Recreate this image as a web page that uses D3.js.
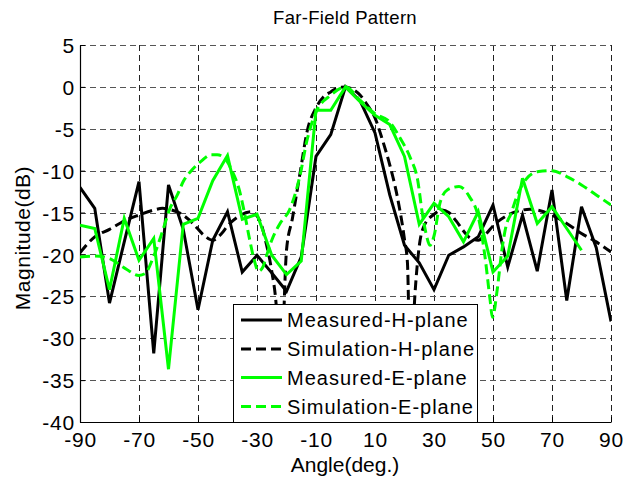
<!DOCTYPE html>
<html>
<head>
<meta charset="utf-8">
<script src="https://cdn.jsdelivr.net/npm/d3@7/dist/d3.min.js"></script>
<style>
  html, body { margin: 0; padding: 0; background: #fff; }
  svg { display: block; }
  text { font-family: "Liberation Sans", Arial, Helvetica, sans-serif; fill: #000; }
</style>
</head>
<body>
<svg id="chart" width="626" height="482"></svg>
<script>
// Measured patterns, sampled every 5 degrees
const measuredAngles = d3.range(-90, 91, 5);
const measuredH = [-12.0, -14.5, -25.8, -18.5, -11.3, -31.8, -11.7, -17.0, -26.6, -18.3,
  -14.9, -22.1, -20.1, -22.2, -24.4, -20.3, -8.3, -5.7, 0, -1.7,
  -5.5, -12.9, -18.9, -21.0, -24.2, -20.1, -19.1, -17.9, -14.1, -21.5,
  -15.3, -22.0, -12.3, -25.5, -14.3, -19.2, -28.0];
const measuredEAngles = d3.range(-90, 81, 5);
const measuredE = [-16.5, -16.9, -24.2, -15.7, -20.7, -18.1, -33.7, -16.4, -15.7, -11.2,
  -8.2, -15.8, -15.2, -20.1, -22.4, -20.8, -2.8, -2.8, 0, -1.8,
  -3.4, -4.5, -8.3, -16.4, -13.9, -15.5, -18.5, -14.9, -22.1, -20.2,
  -10.9, -16.3, -14.3, -16.9, -19.5];

// Simulated patterns
const simHAngles = [-90, -85, -80, -75, -70, -65, -62, -60, -56, -52, -48, -45, -42, -40, -36, -32,
  -29, -27, -25, -23.5, -22, -20, -18, -15.5, -13, -10, -7.5, -5, -2.5, 0,
  2.5, 5, 7.5, 10, 12.5, 15, 17.5, 20, 21, 22, 23.5, 25, 26.5, 30, 32.5, 35,
  37.5, 40, 42.5, 45, 47.5, 50, 55, 60, 62.5, 65, 70, 75, 80, 85, 90];
const simH = [-19.8, -17.9, -17.0, -16.0, -15.3, -14.7, -14.5, -14.6, -15.1, -16.2, -17.7, -18.3, -17.5, -16.6, -15.4, -14.9,
  -16.0, -18.5, -22.0, -26.0, -35.0, -19.5, -15.7, -10.5, -5.3, -2.5, -1.2, -0.6, -0.1, 0,
  -0.3, -1.0, -2.2, -3.7, -6.3, -9.3, -13.0, -18.2, -21.0, -35.0, -25.0, -19.0, -16.7, -15.2, -14.7, -15.0,
  -16.0, -17.2, -18.1, -18.3, -17.6, -16.6, -15.3, -14.7, -14.6, -14.7, -15.3, -16.3, -17.5, -18.5, -19.7];

const simEAngles = [-90, -85, -80, -75, -70, -68, -65, -62, -59.5, -57, -55, -52, -49, -45.5, -43.5, -41,
  -38.5, -36, -34.5, -32.5, -31, -29.5, -28, -27, -25, -22, -19, -15.5, -13, -10, -5, 0,
  5, 10, 15, 18.5, 22, 24.5, 26, 27.3, 28.6, 30, 32, 34.5, 38.5, 42, 45, 47.3, 49, 49.8,
  51.5, 53, 54.5, 56, 58.5, 61.5, 65.5, 70, 75, 80, 85, 90];
const simE = [-20.3, -20.2, -20.5, -21.6, -22.5, -22.3, -20.2, -17.2, -14.5, -12.9, -11.3, -9.9, -8.9, -8.1, -8.1, -8.5,
  -10.0, -12.3, -14.6, -18.2, -20.6, -22.0, -21.5, -20.4, -18.3, -16.2, -14.7, -10.7, -6.3, -3.0, -1.0, 0,
  -1.6, -3.2, -4.2, -6.1, -8.5, -11.2, -15.0, -17.5, -18.9, -17.8, -13.9, -12.3, -11.9, -13.1, -15.5, -20.3, -25.4, -27.5,
  -24.0, -19.5, -16.5, -15.2, -12.7, -10.9, -10.1, -10.0, -10.7, -11.7, -12.9, -14.1];

const xTicks = [-90, -70, -50, -30, -10, 10, 30, 50, 70, 90];
const yTicks = [5, 0, -5, -10, -15, -20, -25, -30, -35, -40];

const seriesNames = ["Measured-H-plane", "Simulation-H-plane", "Measured-E-plane", "Simulation-E-plane"];

const svg = d3.select("#chart");
const plot = { left: 80, right: 611, top: 45, bottom: 422 };

const x = d3.scaleLinear().domain([-90, 90]).range([plot.left, plot.right]);
const y = d3.scaleLinear().domain([-40, 5]).range([plot.bottom, plot.top]);

// grid
const grid = svg.append("g").attr("shape-rendering", "crispEdges");
grid.selectAll("line.v").data(xTicks).join("line")
  .attr("x1", d => Math.round(x(d)) + 0.5).attr("x2", d => Math.round(x(d)) + 0.5)
  .attr("y1", plot.top).attr("y2", plot.bottom)
  .attr("stroke", "#222").attr("stroke-width", 1).attr("stroke-dasharray", "6,4");
grid.selectAll("line.h").data(yTicks).join("line")
  .attr("x1", plot.left).attr("x2", plot.right)
  .attr("y1", d => Math.round(y(d)) + 0.5).attr("y2", d => Math.round(y(d)) + 0.5)
  .attr("stroke", "#555").attr("stroke-width", 1).attr("stroke-dasharray", "6,4");

// axes (plain hyphen for negative tick labels)
const fmt = d => String(d);
const xAxis = d3.axisBottom(x).tickValues(xTicks).tickFormat(fmt).tickSizeInner(-5).tickSizeOuter(0).tickPadding(10);
const yAxis = d3.axisLeft(y).tickValues(yTicks).tickFormat(fmt).tickSizeInner(-5).tickSizeOuter(0).tickPadding(5);

const gx = svg.append("g").attr("transform", `translate(0,${plot.bottom})`).call(xAxis);
const gy = svg.append("g").attr("transform", `translate(${plot.left},0)`).call(yAxis);
[gx, gy].forEach(g => {
  g.select(".domain").attr("stroke", "#000").attr("stroke-width", 1.2);
  g.selectAll(".tick line").attr("stroke", "#000");
  g.selectAll(".tick text")
    .style("font-family", '"Liberation Sans", Arial, sans-serif')
    .style("font-size", "21px").style("letter-spacing", "0.8px").attr("fill", "#000");
});
gy.selectAll(".tick text").attr("dy", "0.36em");

// clip to plot area
svg.append("defs").append("clipPath").attr("id", "plotClip")
  .append("rect").attr("x", plot.left).attr("y", plot.top)
  .attr("width", plot.right - plot.left).attr("height", plot.bottom - plot.top);

const straight = d3.line().x(d => x(d[0])).y(d => y(d[1]));
const smooth = d3.line().x(d => x(d[0])).y(d => y(d[1])).curve(d3.curveMonotoneX);

const series = [
  { name: seriesNames[0], pts: d3.zip(measuredAngles, measuredH), color: "#000", dash: null, gen: straight },
  { name: seriesNames[1], pts: d3.zip(simHAngles, simH), color: "#000", dash: "10,5", gen: smooth },
  { name: seriesNames[2], pts: d3.zip(measuredEAngles, measuredE), color: "#00ff00", dash: null, gen: straight },
  { name: seriesNames[3], pts: d3.zip(simEAngles, simE), color: "#00ff00", dash: "10,5", gen: smooth }
];

const lines = svg.append("g").attr("clip-path", "url(#plotClip)");
series.forEach(s => {
  lines.append("path")
    .attr("d", s.gen(s.pts))
    .attr("fill", "none")
    .attr("stroke", s.color)
    .attr("stroke-width", 3)
    .attr("stroke-linejoin", "miter")
    .attr("stroke-dasharray", s.dash);
});

// title and axis labels
svg.append("text").attr("x", 345).attr("y", 24).attr("text-anchor", "middle")
  .style("font-size", "18.5px").style("letter-spacing", "0.3px").text("Far-Field Pattern");
svg.append("text").attr("x", 345).attr("y", 472).attr("text-anchor", "middle")
  .style("font-size", "21px").text("Angle(deg.)");
svg.append("text").attr("transform", "translate(30,238) rotate(-90)").attr("text-anchor", "middle")
  .style("font-size", "21px").style("letter-spacing", "0.5px").text("Magnitude(dB)");

// legend
const legend = svg.append("g");
legend.append("rect").attr("x", 233.5).attr("y", 304.5).attr("width", 244).attr("height", 118)
  .attr("fill", "#fff").attr("stroke", "#000").attr("stroke-width", 1);
const rowY = [320, 349, 377.5, 406.5];
series.forEach((s, i) => {
  legend.append("line").attr("x1", 241).attr("x2", 282).attr("y1", rowY[i]).attr("y2", rowY[i])
    .attr("stroke", s.color).attr("stroke-width", 3).attr("stroke-dasharray", s.dash);
  legend.append("text").attr("x", 287).attr("y", rowY[i]).attr("dy", "0.36em")
    .style("font-size", "20px").style("letter-spacing", "1px").text(s.name);
});
</script>
</body>
</html>
